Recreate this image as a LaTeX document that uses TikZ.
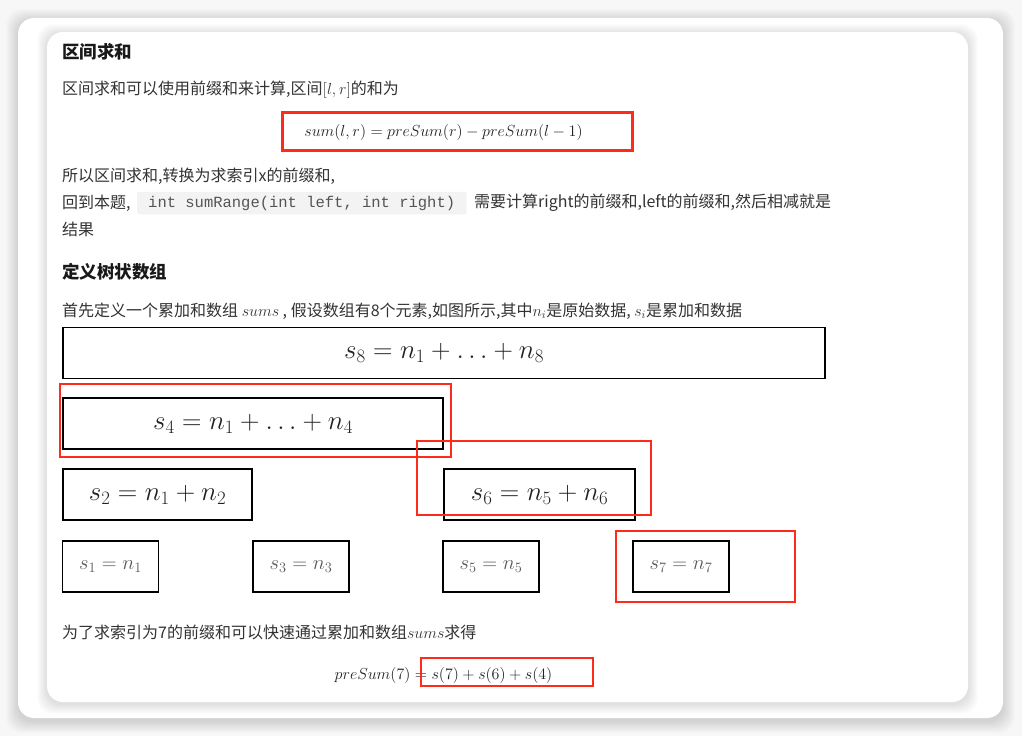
\documentclass[tikz,border=0pt]{standalone}
\usepackage{fix-cm}
\usepackage{fontspec}
\newfontfamily\cjk{Noto Sans CJK SC}
\newfontfamily\mono{Liberation Mono}
\definecolor{textc}{HTML}{333333}
\definecolor{redc}{HTML}{FF2A1A}
\definecolor{codebg}{HTML}{F3F3F3}
\definecolor{codec}{HTML}{555555}
\definecolor{bgc}{HTML}{F7F7F7}
\definecolor{mathc}{HTML}{222222}
\tikzset{
  body/.style={anchor=west, inner sep=0pt, text=textc, font=\cjk\fontsize{16}{19}\selectfont},
  title/.style={anchor=west, inner sep=0pt, text=black!90, font=\cjk\bfseries\fontsize{17.5}{20}\selectfont},
  formula/.style={inner sep=0pt, text=mathc, font=\fontsize{16}{19}\selectfont},
  bigbox/.style={draw=black, line width=1.5pt, minimum height=51pt, inner sep=0pt, text=mathc, font=\fontsize{27}{30}\selectfont},
  smallbox/.style={draw=black, line width=1.5pt, minimum width=96pt, minimum height=51pt, inner sep=0pt, text=black!65, font=\fontsize{20.5}{24}\selectfont},
  redbox/.style={draw=redc, line width=2.2pt, inner sep=0pt},
  codebox/.style={fill=codebg, draw=black!6, rounded corners=2pt, inner sep=0pt, minimum height=22pt, anchor=west, text=codec, font=\mono\fontsize{15.5}{18}\selectfont},
}
\begin{document}
\begin{tikzpicture}[x=1pt,y=-1pt]
\useasboundingbox (0,0) rectangle (1022,736);
\fill[bgc] (0,0) rectangle (1022,736);
% outer card shadow
\foreach \i in {1,...,12}{
  \fill[black, opacity=0.01, rounded corners=16pt] (18-\i,18-\i+3) rectangle (1003+\i,718+\i+3);
}
\fill[white, rounded corners=16pt] (18,18) rectangle (1003,718);
% inner card shadow
\foreach \i in {1,...,10}{
  \fill[black, opacity=0.012, rounded corners=16pt] (47-\i,32-\i+2) rectangle (968+\i,702+\i+2);
}
\fill[white, rounded corners=16pt] (47,32) rectangle (968,702);

\node[title] (t1) at (62,52) {区间求和};
\node[body] (l1) at (62,90) {区间求和可以使用前缀和来计算,区间$[l,r]$的和为};
\node[formula] (f1) at (443.5,132) {$sum(l,r)=preSum(r)-preSum(l-1)$};
\node[redbox, minimum width=350pt, minimum height=38pt] (r1) at (457.5,131.5) {};
\node[body] (l2) at (62,176) {所以区间求和,转换为求索引x的前缀和,};
\node[body] (l3) at (62,203) {回到本题,};
\node[codebox, minimum width=329pt] (code) at (137,203) {int sumRange(int left, int right)};
\node[body] (l3b) at (474,203) {需要计算right的前缀和,left的前缀和,然后相减就是};
\node[body] (l4) at (62,229) {结果};

\node[title] (t2) at (62,272) {定义树状数组};
\node[body] (l5) at (62,311) {首先定义一个累加和数组 $sums$ , 假设数组有8个元素,如图所示,其中$n_i$是原始数据, $s_i$是累加和数据};

\node[bigbox, minimum width=762pt] (s8) at (444,353) {$s_8=n_1+\ldots+n_8$};
\node[bigbox, minimum width=380pt] (s4) at (253,423.5) {$s_4=n_1+\ldots+n_4$};
\node[bigbox, minimum width=189pt] (s2) at (157.5,494.5) {$s_2=n_1+n_2$};
\node[bigbox, minimum width=191pt] (s6) at (539.5,494.5) {$s_6=n_5+n_6$};
\node[smallbox] (s1) at (110.5,566.5) {$s_1=n_1$};
\node[smallbox] (s3) at (301,566.5) {$s_3=n_3$};
\node[smallbox] (s5) at (491,566.5) {$s_5=n_5$};
\node[smallbox] (s7) at (681,566.5) {$s_7=n_7$};

\node[redbox, minimum width=391pt, minimum height=73pt] (r2) at (255.5,420.5) {};
\node[redbox, minimum width=234pt, minimum height=74pt] (r3) at (534,478) {};
\node[redbox, minimum width=179pt, minimum height=71pt] (r4) at (705.5,566.5) {};

\node[body] (l6) at (62,632) {为了求索引为7的前缀和可以快速通过累加和数组$sums$求得};
\node[formula] (f2) at (443.5,675) {$preSum(7)=s(7)+s(6)+s(4)$};
\node[redbox, minimum width=172pt, minimum height=28pt] (r5) at (507,672) {};
\end{tikzpicture}
\end{document}
